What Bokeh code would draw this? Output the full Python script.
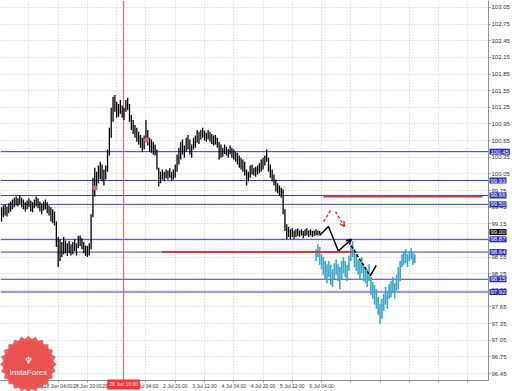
import math
from bokeh.plotting import figure
from bokeh.models import Range1d, FixedTicker, Span, Label, Arrow, OpenHead, PrintfTickFormatter
from bokeh.core.properties import value
from bokeh.embed import file_html
from bokeh.resources import INLINE

# ---- H1 bars (black), index 0 = first bar ----
bar_high = [99.45, 99.48, 99.50, 99.46, 99.52, 99.55, 99.59, 99.62, 99.64, 99.61,
            99.66, 99.62, 99.59, 99.54, 99.57, 99.61, 99.57, 99.54, 99.59, 99.64,
            99.61, 99.55, 99.52, 99.55, 99.59, 99.54, 99.48, 99.45, 99.41, 99.37,
            99.19, 98.91, 98.87, 98.82, 98.91, 98.85, 98.80, 98.84, 98.78, 98.82,
            98.87, 98.80, 98.93, 98.94, 98.89, 98.82, 98.76, 98.75, 98.80, 99.32,
            99.98, 100.16, 100.09, 100.20, 100.27, 100.22, 100.13, 100.20, 100.49, 100.88,
            101.24, 101.44, 101.47, 101.35, 101.31, 101.38, 101.28, 101.24, 101.38, 101.42,
            101.31, 101.11, 101.02, 100.93, 100.88, 100.81, 100.75, 100.70, 100.74, 101.02,
            100.84, 100.70, 100.67, 100.63, 100.58, 100.49, 100.16, 100.09, 100.13, 100.09,
            100.13, 100.11, 100.15, 100.09, 100.13, 100.22, 100.40, 100.52, 100.63, 100.67,
            100.56, 100.70, 100.75, 100.67, 100.58, 100.70, 100.74, 100.84, 100.81, 100.84,
            100.88, 100.83, 100.79, 100.84, 100.81, 100.77, 100.74, 100.75, 100.70, 100.63,
            100.58, 100.52, 100.58, 100.54, 100.50, 100.56, 100.52, 100.49, 100.45, 100.43,
            100.38, 100.34, 100.31, 100.27, 100.13, 100.09, 100.20, 100.22, 100.16, 100.18,
            100.20, 100.24, 100.31, 100.34, 100.38, 100.49, 100.34, 100.22, 100.13, 100.04,
            99.95, 99.88, 99.84, 99.80, 99.77, 99.41, 99.14, 99.09, 99.05, 99.07,
            99.03, 99.05, 99.07, 99.03, 99.05, 99.02, 99.05, 99.07, 99.03, 99.05,
            99.02, 99.03, 99.05, 99.03, 99.02]
bar_low = [99.19, 99.27, 99.30, 99.28, 99.34, 99.37, 99.41, 99.45, 99.48, 99.46,
           99.50, 99.45, 99.41, 99.37, 99.41, 99.45, 99.37, 99.36, 99.43, 99.46,
           99.43, 99.37, 99.32, 99.39, 99.41, 99.34, 99.30, 99.19, 99.16, 99.12,
           98.73, 98.37, 98.48, 98.55, 98.60, 98.62, 98.57, 98.62, 98.58, 98.60,
           98.66, 98.58, 98.71, 98.75, 98.69, 98.62, 98.57, 98.55, 98.58, 98.69,
           99.27, 99.64, 99.77, 99.88, 99.95, 99.91, 99.84, 99.95, 100.09, 100.38,
           100.70, 100.99, 101.17, 101.06, 101.08, 101.13, 101.06, 101.02, 101.17, 101.20,
           100.99, 100.84, 100.77, 100.70, 100.63, 100.58, 100.52, 100.45, 100.49, 100.63,
           100.56, 100.45, 100.43, 100.40, 100.38, 100.13, 99.82, 99.88, 99.95, 99.91,
           99.97, 99.95, 99.98, 99.91, 99.95, 99.98, 100.09, 100.22, 100.31, 100.40,
           100.34, 100.45, 100.49, 100.40, 100.34, 100.49, 100.52, 100.61, 100.59, 100.67,
           100.70, 100.65, 100.63, 100.67, 100.63, 100.59, 100.56, 100.58, 100.52, 100.31,
           100.34, 100.36, 100.41, 100.38, 100.34, 100.40, 100.34, 100.31, 100.27, 100.22,
           100.16, 100.13, 100.09, 100.02, 99.84, 99.91, 99.98, 100.04, 100.02, 100.00,
           100.04, 100.06, 100.09, 100.13, 100.20, 100.27, 100.09, 99.98, 99.91, 99.84,
           99.73, 99.70, 99.66, 99.62, 99.32, 99.02, 98.87, 98.91, 98.87, 98.91,
           98.87, 98.91, 98.93, 98.91, 98.94, 98.89, 98.93, 98.94, 98.91, 98.94,
           98.91, 98.93, 98.94, 98.94, 98.96]

# ---- projected bars (cyan) ----
fc_start = 172
fc_high = [98.69, 98.78, 98.73, 98.60, 98.55, 98.48, 98.42, 98.48, 98.41, 98.33,
           98.44, 98.51, 98.42, 98.37, 98.48, 98.55, 98.48, 98.41, 98.58, 98.78,
           98.84, 98.69, 98.60, 98.51, 98.48, 98.55, 98.44, 98.37, 98.33, 98.42,
           98.19, 98.10, 98.05, 97.97, 97.83, 97.71, 97.80, 97.89, 98.01, 97.94,
           98.06, 98.12, 98.19, 98.08, 98.23, 98.37, 98.48, 98.60, 98.66, 98.69,
           98.60, 98.66, 98.71, 98.64, 98.60]
fc_low = [98.48, 98.55, 98.41, 98.33, 98.23, 98.15, 98.08, 98.19, 98.05, 98.01,
          98.15, 98.23, 98.12, 97.97, 98.15, 98.26, 98.19, 98.12, 98.30, 98.48,
          98.55, 98.37, 98.30, 98.23, 98.15, 98.26, 98.12, 98.08, 98.01, 98.12,
          97.87, 97.80, 97.69, 97.62, 97.51, 97.35, 97.44, 97.58, 97.69, 97.62,
          97.80, 97.83, 97.90, 97.80, 97.94, 97.97, 98.12, 98.37, 98.41, 98.44,
          98.37, 98.48, 98.51, 98.41, 98.44]

# ---- axes ----
price_ticks = [96.45, 96.75, 97.05, 97.35, 97.65, 97.95, 98.25, 98.55, 98.85, 99.15,
               99.45, 99.75, 100.05, 100.35, 100.65, 100.95, 101.25, 101.55, 101.85,
               102.15, 102.45, 102.75, 103.05]
time_ticks = [15, 31, 47, 63, 79, 95, 111, 127, 143, 159, 175, 191, 207, 223, 239, 255]
time_labels = ["27 Jun 12:00", "28 Jun 04:00", "28 Jun 20:00", "29 Jun 12:00", "2 Jul 04:00",
               "2 Jul 20:00", "3 Jul 12:00", "4 Jul 04:00", "4 Jul 20:00", "5 Jul 12:00",
               "6 Jul 04:00", "", "", "", "", ""]

# ---- levels & drawings ----
level_prices = [100.45, 99.93, 99.66, 99.50, 98.87, 98.64, 98.15, 97.92]
current_price = 99.00
red_x0 = [176, 87.5]
red_x1 = [263, 192]
red_price = [99.64, 98.64]
cursor_idx = 66.8
cursor_label = "29 Jun 16:00"
zig_idx = [173.9, 178.8, 184.2, 191.3]
zig_price = [98.94, 99.10, 98.66, 98.87]
dash_idx = [191.3, 201.6, 204.9]
dash_price = [98.75, 98.21, 98.40]
red_arrow_idx = [176.1, 179.9, 182.6, 187.5]
red_arrow_price = [99.19, 99.39, 99.37, 99.10]
star_idx = [51, 79.3]
star_price = [99.80, 100.66]

FONT = "Liberation Sans"
Y0, Y1 = 96.325, 103.175

p = figure(width=512, height=391, output_backend="svg", toolbar_location=None,
           x_range=Range1d(-0.54, 266.3), y_range=Range1d(Y0, Y1),
           y_axis_location="right", min_border_left=0, min_border_top=0,
           min_border_right=21, min_border_bottom=9)
p.outline_line_color = None
p.background_fill_color = "white"

p.yaxis.ticker = FixedTicker(ticks=price_ticks)
p.yaxis.formatter = PrintfTickFormatter(format="%.2f")
p.xaxis.ticker = FixedTicker(ticks=time_ticks)
p.xaxis.major_label_overrides = {t: s for t, s in zip(time_ticks, time_labels)}
for ax in (p.xaxis[0], p.yaxis[0]):
    ax.major_label_text_font = FONT
    ax.major_label_text_color = "#333333"
    ax.axis_line_color = "#909090"
    ax.major_tick_line_color = "#909090"
    ax.major_tick_out = 2
    ax.major_tick_in = 0
    ax.minor_tick_line_color = None
p.yaxis.major_label_text_font_size = "6px"
p.xaxis.major_label_text_font_size = "5px"
p.yaxis.major_label_standoff = 1
p.xaxis.major_label_standoff = 0

for g in (p.xgrid[0], p.ygrid[0]):
    g.grid_line_color = "#c8c8c8"
    g.grid_line_dash = "1 2"
    g.grid_line_width = 1

# level lines
for lv in level_prices:
    p.add_layout(Span(location=lv, dimension="width", line_color="#3a3ac8", line_width=1,
                      level="underlay"))

# cursor
p.add_layout(Span(location=cursor_idx, dimension="height", line_color="#ff4a4a", line_width=1,
                  level="underlay"))

# black bars
xs = list(range(len(bar_high)))
p.segment(x0=xs, y0=bar_low, x1=xs, y1=bar_high, line_color="#000000", line_width=1.3)

# cyan projected bars
fxs = [fc_start + k for k in range(len(fc_high))]
p.segment(x0=fxs, y0=fc_low, x1=fxs, y1=fc_high, line_color="#3aa6c8", line_width=1.6)

# red horizontal segments
p.segment(x0=red_x0, y0=red_price, x1=red_x1, y1=red_price, line_color="#e53535", line_width=2)

# zigzag drawings
p.line(zig_idx[:3], zig_price[:3], line_color="black", line_width=1.5)
p.add_layout(Arrow(end=OpenHead(size=5, line_color="black", line_width=1.5),
                   x_start=zig_idx[2], y_start=zig_price[2], x_end=zig_idx[3], y_end=zig_price[3],
                   line_color="black", line_width=1.5))
p.line(dash_idx[:2], dash_price[:2], line_color="black", line_width=1.5, line_dash="3 2")
p.line(dash_idx[1:], dash_price[1:], line_color="black", line_width=1.5)
p.line(red_arrow_idx[:2], red_arrow_price[:2], line_color="#e53535", line_width=1.5, line_dash="3 2")
p.add_layout(Arrow(end=OpenHead(size=5, line_color="#e53535", line_width=1.5),
                   x_start=red_arrow_idx[2], y_start=red_arrow_price[2],
                   x_end=red_arrow_idx[3], y_end=red_arrow_price[3],
                   line_color="#e53535", line_width=1.5, line_dash="3 2"))

# fractal marks
p.scatter(star_idx, star_price, marker="asterisk", size=5, line_color="#e0609a", line_width=1.5)

# price labels on the right axis
x_end = p.x_range.end
lv_text = p.text(x=[x_end] * len(level_prices), y=level_prices,
                 text=[f"{v:.2f}" for v in level_prices], x_offset=1,
                 text_font=value(FONT), text_font_size=value("6px"), text_color="white",
                 text_align="left", text_baseline="middle", padding=1,
                 background_fill_color="#2a2ac8", background_fill_alpha=1.0)
lv_text.level = "overlay"
cur_text = p.text(x=[x_end], y=[current_price], text=[f"{current_price:.2f}"], x_offset=1,
                  text_font=value(FONT), text_font_size=value("6px"), text_color="white",
                  text_align="left", text_baseline="middle", padding=1,
                  background_fill_color="black", background_fill_alpha=1.0)
cur_text.level = "overlay"

# cursor time label
cur_time = p.text(x=[cursor_idx], y=[Y0 - 0.07], text=[cursor_label],
                  text_font=value(FONT), text_font_size=value("5px"), text_color="white",
                  text_align="center", text_baseline="middle", padding=2,
                  background_fill_color="#ff3030", background_fill_alpha=1.0)
cur_time.level = "overlay"

# InstaForex badge
logo_x, logo_y = 14.7, 96.62
badge = p.scatter([logo_x] * 6, [logo_y] * 6, marker="square", size=40,
                  angle=[k * math.pi / 12 for k in range(6)],
                  fill_color="#e8524e", line_color=None, fill_alpha=0.92)
badge.level = "overlay"
p.add_layout(Label(x=logo_x, y=logo_y, text="InstaForex", y_offset=-8, level="overlay",
                   text_font=FONT, text_font_size="8px", text_color="white",
                   text_align="center", text_baseline="middle"))
p.add_layout(Label(x=logo_x, y=logo_y, text="♆", y_offset=4, level="overlay",
                   text_font="DejaVu Sans", text_font_size="10px", text_color="white",
                   text_align="center", text_baseline="middle"))

open("out.html", "w").write(file_html(p, INLINE))
